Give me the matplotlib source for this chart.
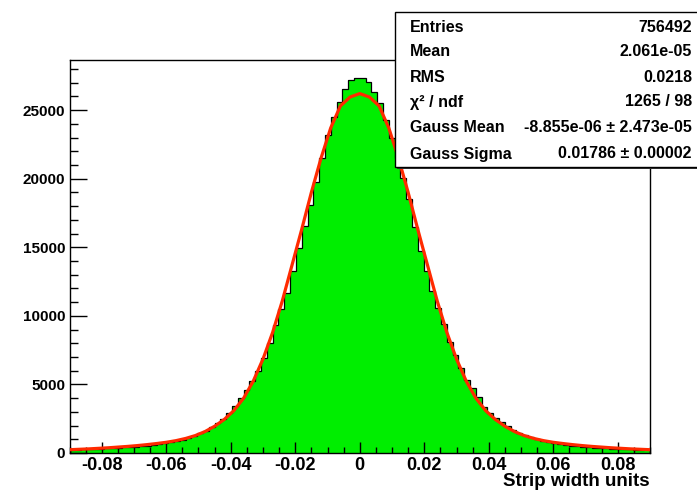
import numpy as np
import matplotlib.pyplot as plt
from matplotlib.patches import Rectangle

# histogram: 100 bins from -0.09 to 0.09
x_min, x_max, n_bins = -0.09, 0.09, 100
counts = [
    235, 250, 265, 280, 300, 320, 340, 360, 385, 410,
    440, 470, 505, 545, 590, 640, 700, 770, 850, 950,
    1110, 1250, 1440, 1640, 1870, 2170, 2480, 2900, 3450, 4000,
    4620, 5250, 5980, 6900, 8050, 9300, 10500, 11700, 13300, 14920,
    16570, 18080, 19780, 21480, 23180, 24470, 25600, 26530, 27190, 27360,
    27310, 27060, 26300, 25500, 24300, 23000, 21500, 20020, 18500, 16490,
    14700, 13300, 11800, 10550, 9400, 8110, 7140, 6170, 5320, 4715,
    4100, 3370, 2890, 2530, 2280, 1970, 1680, 1480, 1310, 1140,
    1000, 860, 780, 700, 640, 590, 540, 500, 465, 430,
    400, 370, 345, 320, 300, 280, 260, 240, 225, 280,
]

# fit curve (x >= 0 side, curve is symmetric)
fit_x_pos = [0.000, 0.003, 0.006, 0.009, 0.012, 0.015, 0.018, 0.021, 0.024, 0.027,
             0.030, 0.033, 0.036, 0.039, 0.042, 0.045, 0.048, 0.051, 0.054, 0.057,
             0.060, 0.063, 0.066, 0.069, 0.072, 0.075, 0.078, 0.081, 0.084, 0.087, 0.090]
fit_y_pos = [26200, 25950, 25300, 23700, 21500, 19000, 16300, 13700, 11100, 8800,
             6850, 5250, 4000, 3100, 2450, 1950, 1560, 1270, 1060, 900,
             780, 690, 610, 540, 480, 430, 380, 340, 300, 270, 240]

stats_labels = ['Entries', 'Mean', 'RMS', '\u03c7\u00b2 / ndf', 'Gauss Mean', 'Gauss Sigma']
stats_values = ['756492', '2.061e-05', '0.0218', '1265 / 98',
                '-8.855e-06 \u00b1 2.473e-05', '0.01786 \u00b1 0.00002']

W, H = 697, 493
plt.rcParams['font.family'] = ['Liberation Sans', 'DejaVu Sans']
plt.rcParams['font.weight'] = 'bold'

fig = plt.figure(figsize=(W / 100, H / 100), dpi=100)
fig.patch.set_facecolor('white')
ax = fig.add_axes([69.5 / W, 40 / H, (650 - 69.5) / W, (453 - 60) / H])

edges = np.linspace(x_min, x_max, n_bins + 1)
ax.stairs(counts, edges, fill=True, color='#00ee00', zorder=1)
ax.stairs(counts, edges, color='black', linewidth=0.9, zorder=2)

fit_x = [-v for v in fit_x_pos[:0:-1]] + fit_x_pos
fit_y = fit_y_pos[:0:-1] + fit_y_pos
ax.plot(fit_x, fit_y, color='#ff2a00', linewidth=2.3, zorder=3)

ax.set_xlim(x_min, x_max)
ax.set_ylim(0, 28650)
ax.set_xticks(np.arange(-0.08, 0.081, 0.02))
ax.set_xticklabels(['-0.08', '-0.06', '-0.04', '-0.02', '0', '0.02', '0.04', '0.06', '0.08'])
ax.set_xticks(np.arange(-0.09, 0.0901, 0.005), minor=True)
ax.set_yticks(np.arange(0, 25001, 5000))
ax.set_yticks(np.arange(0, 28001, 1000), minor=True)
ax.tick_params(axis='x', which='major', direction='in', length=8.1, width=1, labelsize=13, pad=3)
ax.tick_params(axis='x', which='minor', direction='in', length=4, width=1)
ax.tick_params(axis='y', which='major', direction='in', length=12.2, width=1, labelsize=11, pad=3)
ax.tick_params(axis='y', which='minor', direction='in', length=6.1, width=1)
for lbl in ax.get_xticklabels() + ax.get_yticklabels():
    lbl.set_fontweight('bold')
for sp in ax.spines.values():
    sp.set_linewidth(1)

fig.text(650 / W, 1 - 481 / H, 'Strip width units', ha='right', va='center',
         fontsize=13.5, fontweight='bold')

# stats box
bx0, by0, bx1, by1 = 395, 12, 700, 167
fig.patches.append(Rectangle((bx0 / W + 2 / W, 1 - (by1 + 2) / H), (bx1 - bx0) / W, (by1 - by0) / H,
                             transform=fig.transFigure, facecolor='#333333', edgecolor='none', zorder=5))
fig.patches.append(Rectangle((bx0 / W, 1 - by1 / H), (bx1 - bx0) / W, (by1 - by0) / H,
                             transform=fig.transFigure, facecolor='white', edgecolor='black',
                             linewidth=1, zorder=6))
row_y = [27, 52, 77, 102, 128, 154]
for lab, val, yy in zip(stats_labels, stats_values, row_y):
    fig.text(410 / W, 1 - yy / H, lab, ha='left', va='center', fontsize=11.5,
             fontweight='bold', zorder=7)
    fig.text(692 / W, 1 - yy / H, val, ha='right', va='center', fontsize=11.5,
             fontweight='bold', zorder=7)

fig.savefig('out.png', dpi=100)
